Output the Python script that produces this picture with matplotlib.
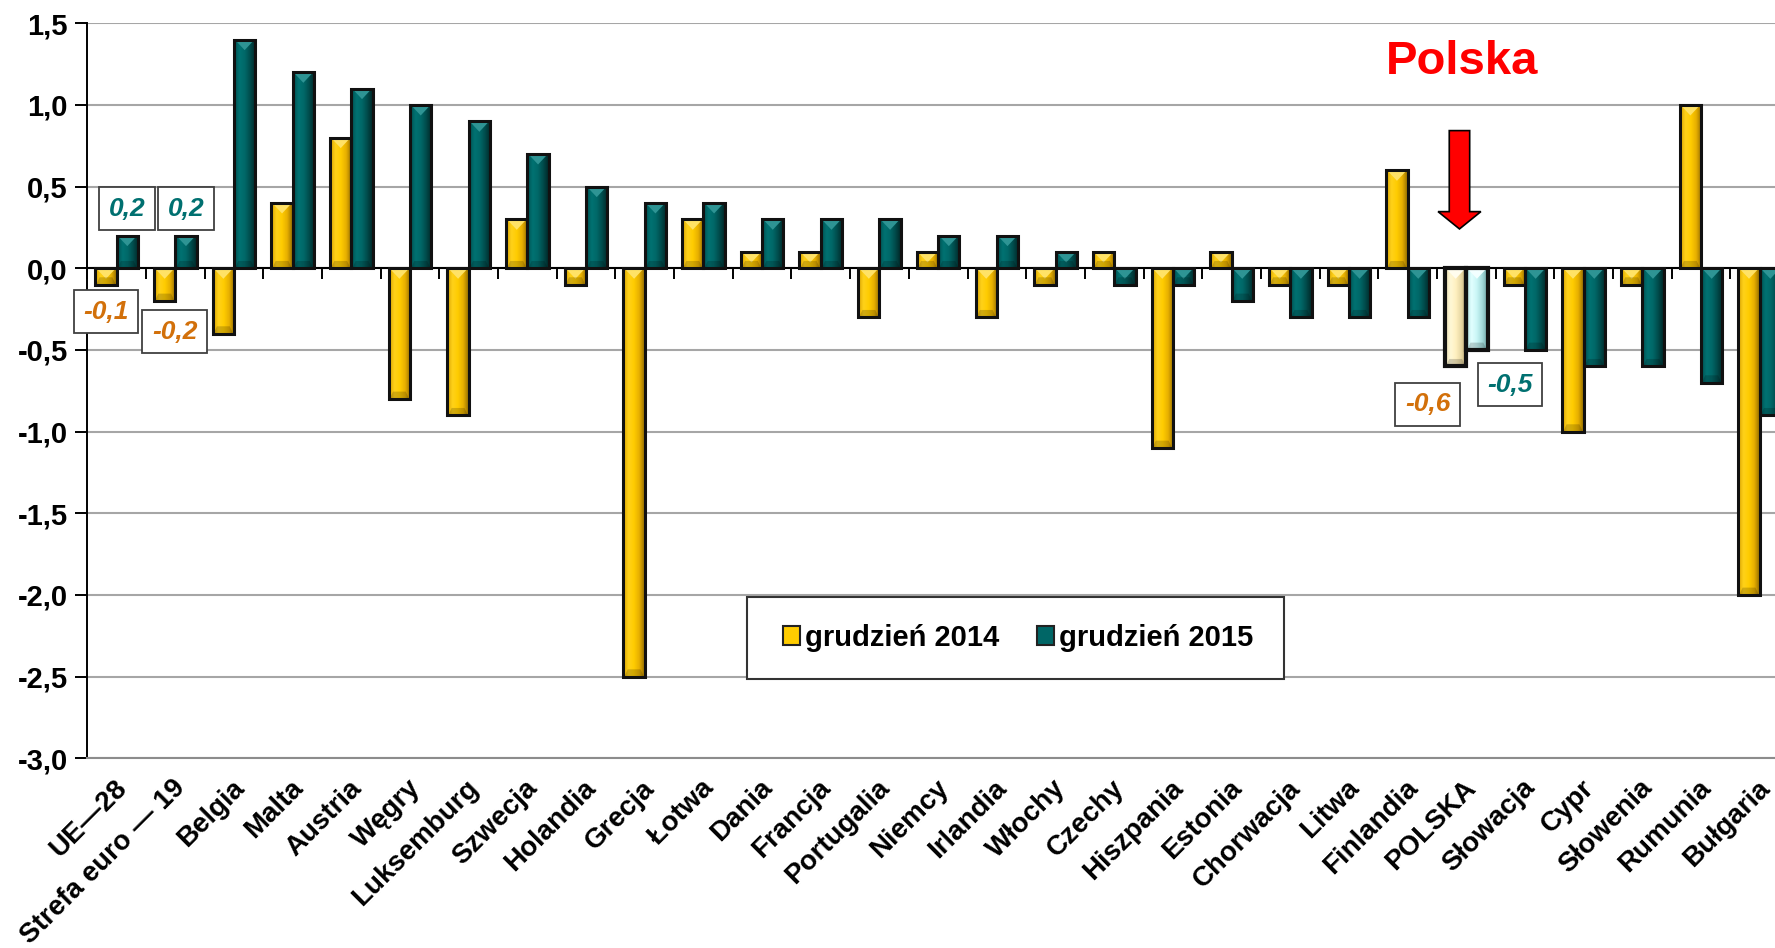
import numpy as np
import matplotlib
matplotlib.use('Agg')
import matplotlib.pyplot as plt
from matplotlib.colors import LinearSegmentedColormap
from matplotlib.patches import Polygon, Rectangle, Patch
from matplotlib.transforms import ScaledTranslation

plt.rcParams['font.family'] = ['Liberation Sans', 'DejaVu Sans']
plt.rcParams['font.weight'] = 'bold'

# ---------------- data ----------------
categories = ['UE—28', 'Strefa euro — 19', 'Belgia', 'Malta', 'Austria', 'Węgry',
              'Luksemburg', 'Szwecja', 'Holandia', 'Grecja', 'Łotwa', 'Dania',
              'Francja', 'Portugalia', 'Niemcy', 'Irlandia', 'Włochy', 'Czechy',
              'Hiszpania', 'Estonia', 'Chorwacja', 'Litwa', 'Finlandia', 'POLSKA',
              'Słowacja', 'Cypr', 'Słowenia', 'Rumunia', 'Bułgaria']
dec_2014 = [-0.1, -0.2, -0.4, 0.4, 0.8, -0.8, -0.9, 0.3, -0.1, -2.5, 0.3, 0.1,
            0.1, -0.3, 0.1, -0.3, -0.1, 0.1, -1.1, 0.1, -0.1, -0.1, 0.6, -0.6,
            -0.1, -1.0, -0.1, 1.0, -2.0]
dec_2015 = [0.2, 0.2, 1.4, 1.2, 1.1, 1.0, 0.9, 0.7, 0.5, 0.4, 0.4, 0.3,
            0.3, 0.3, 0.2, 0.2, 0.1, -0.1, -0.1, -0.2, -0.3, -0.3, -0.3, -0.5,
            -0.5, -0.6, -0.6, -0.7, -0.9]
series_labels = ['grudzień 2014', 'grudzień 2015']
highlight = 'POLSKA'
yticks = [-3.0, -2.5, -2.0, -1.5, -1.0, -0.5, 0.0, 0.5, 1.0, 1.5]
ytick_labels = ['-3,0', '-2,5', '-2,0', '-1,5', '-1,0', '-0,5', '0,0', '0,5', '1,0', '1,5']

# ---------------- styling ----------------
W, H = 1775, 948
fig = plt.figure(figsize=(W / 100, H / 100), dpi=100)
ax_left, ax_right, ax_top, ax_bottom = 87.3, 87.3 + 29 * 58.68, 23.3, 758.3
ax = fig.add_axes([ax_left / W, 1 - ax_bottom / H, (ax_right - ax_left) / W,
                   (ax_bottom - ax_top) / H])

yellow_grad = ['#D9A200', '#FFD21A', '#FFCC00', '#E6AE00', '#8F6A00']
green_grad = ['#004E4E', '#007272', '#006868', '#004A4A', '#002525']
cream_grad = ['#E8DDB0', '#FFF8D6', '#FFF0C0', '#E6D6A2', '#B5A270']
cyan_grad = ['#A8E0E0', '#E2FFFF', '#C8F6F6', '#A2D8D8', '#6A9E9E']
yellow_top, green_top = '#FFE266', '#2E9494'
cream_top, cyan_top = '#FFFDEE', '#F2FFFF'

n = len(categories)
x = np.arange(n)
bw = 0.363
hi = categories.index(highlight)

def colors_for(base, light, idx):
    return [light if i == idx else base for i in range(n)]

ax.set_xlim(-0.5, n - 0.5)
ax.set_ylim(min(yticks), max(yticks))

sets = [
    (x - bw / 2, dec_2014, yellow_grad, cream_grad, yellow_top, cream_top, '#FFCC00', '#FFF0C0'),
    (x + bw / 2, dec_2015, green_grad, cyan_grad, green_top, cyan_top, '#006666', '#C8F6F6'),
]
px_y = (max(yticks) - min(yticks)) / (ax_bottom - ax_top)  # data per pixel (y)
for xs, vals, grad, lgrad, topc, ltopc, fc, lfc in sets:
    bars = ax.bar(xs, vals, bw, color=colors_for(fc, lfc, hi), zorder=2, linewidth=0)
    for i, b in enumerate(bars):
        g = lgrad if i == hi else grad
        cmap = LinearSegmentedColormap.from_list('g', g)
        x0 = b.get_x(); w = b.get_width()
        y0, y1 = sorted([b.get_y(), b.get_y() + b.get_height()])
        im = ax.imshow(np.linspace(0, 1, 128).reshape(1, -1), extent=[x0, x0 + w, y0, y1],
                       aspect='auto', cmap=cmap, zorder=2.2, interpolation='bicubic')
        im.set_clip_path(b)
        th = 10.5 * px_y
        tri = Polygon([[x0 + 0.04 * w, y1], [x0 + 0.96 * w, y1], [x0 + w / 2, y1 - th]],
                      closed=True, fc=(ltopc if i == hi else topc), ec='none', zorder=2.3)
        ax.add_patch(tri)
        bot = Polygon([[x0 + 0.04 * w, y0], [x0 + 0.96 * w, y0], [x0 + 0.8 * w, y0 + th * 0.7],
                       [x0 + 0.2 * w, y0 + th * 0.7]], closed=True,
                      fc=(0, 0, 0, 0.18), ec='none', zorder=2.3)
        ax.add_patch(bot)
    lws = [3.0 if i == hi else 2.2 for i in range(n)]
    ax.bar(xs, vals, bw, facecolor='none', edgecolor='#111111', linewidth=lws, zorder=3)

ax.set_xlim(-0.5, n - 0.5)
ax.set_ylim(min(yticks), max(yticks))

# grid and spines
ax.set_yticks(yticks)
ax.set_yticklabels(ytick_labels, fontsize=21, fontweight='bold')
ax.yaxis.grid(True, color='#A6A6A6', linewidth=1.5, zorder=0)
ax.set_axisbelow(True)
for s in ['top', 'right']:
    ax.spines[s].set_visible(False)
ax.spines['bottom'].set_color('#8C8C8C')
ax.spines['bottom'].set_linewidth(1.5)
ax.spines['left'].set_color('#000000')
ax.spines['left'].set_linewidth(1.4)
ax.tick_params(axis='y', direction='out', length=9, width=1.4, pad=5)

ax.set_xticks(x)
ax.set_xticklabels(categories, rotation=45, ha='right', va='top',
                   rotation_mode='anchor', fontsize=20, fontweight='bold')
ax.tick_params(axis='x', length=0, pad=12)
for lbl in ax.get_xticklabels():
    lbl.set_transform(lbl.get_transform() + ScaledTranslation(-3 / 100, 0, fig.dpi_scale_trans))

# zero axis with category-boundary ticks
ax.axhline(0, color='#000000', linewidth=1.5, zorder=1.5)
sec = ax.secondary_xaxis((0 - min(yticks)) / (max(yticks) - min(yticks)))
sec.set_alignment('bottom')
sec.set_xticks(np.arange(-0.5, n, 1.0))
sec.tick_params(axis='x', direction='out', length=8, width=1.4, color='#000000',
                labelbottom=False, labeltop=False)
for s in sec.spines.values():
    s.set_visible(False)

# data labels
orange, teal = '#D2700A', '#007070'
def lab(cat, series, dx_px, dy_px):
    i = categories.index(cat)
    if series == 0:
        v, xc, col = dec_2014[i], i - bw / 2, orange
    else:
        v, xc, col = dec_2015[i], i + bw / 2, teal
    ax.annotate(f"{v:.1f}".replace('.', ','), xy=(xc, v), xytext=(dx_px * 0.72, dy_px * 0.72),
                textcoords='offset points', ha='center', va='center', fontsize=19,
                fontweight='bold', fontstyle='italic', color=col, zorder=5,
                bbox=dict(boxstyle='square,pad=0.36', fc='white', ec='#404040', lw=1.3))

lab('UE—28', 1, 0, 27)
lab('UE—28', 0, 0, -27)
lab('Strefa euro — 19', 1, 0, 27)
lab('Strefa euro — 19', 0, 10, -31)
lab('POLSKA', 0, -28, -38)
lab('POLSKA', 1, 33, -35)

# arrow pointing at POLSKA
ax_c = hi - 0.116
sw, hw = 0.174, 0.365
ytip, ybase, ytop = 0.241, 0.347, 0.843
arrow = Polygon([[ax_c - sw, ytop], [ax_c + sw, ytop], [ax_c + sw, ybase], [ax_c + hw, ybase],
                 [ax_c, ytip], [ax_c - hw, ybase], [ax_c - sw, ybase]], closed=True,
                fc='#FF0000', ec='#000000', lw=1.2, zorder=4)
ax.add_patch(arrow)

fig.text(1461.7 / W, 1 - 74 / H, 'Polska', color='#FF0000', fontsize=34,
         fontweight='bold', ha='center', va='baseline')

# legend
fig.patches.append(Rectangle((747 / W, 1 - 679 / H), 537 / W, 82 / H, transform=fig.transFigure,
                             fc='white', ec='#333333', lw=1.5, zorder=10))
handles = [Patch(facecolor='#FFCC00', edgecolor='#222222', lw=1.5),
           Patch(facecolor='#006666', edgecolor='#222222', lw=1.5)]
leg = fig.legend(handles, series_labels, loc='center', bbox_to_anchor=(1018 / W, 1 - 638 / H),
                 ncol=2, frameon=False, handlelength=0.6, handleheight=0.6,
                 handletextpad=0.15, columnspacing=1.3, prop={'weight': 'bold', 'size': 21})
leg.set_zorder(11)

fig.savefig('out.png', dpi=100, facecolor='white')
